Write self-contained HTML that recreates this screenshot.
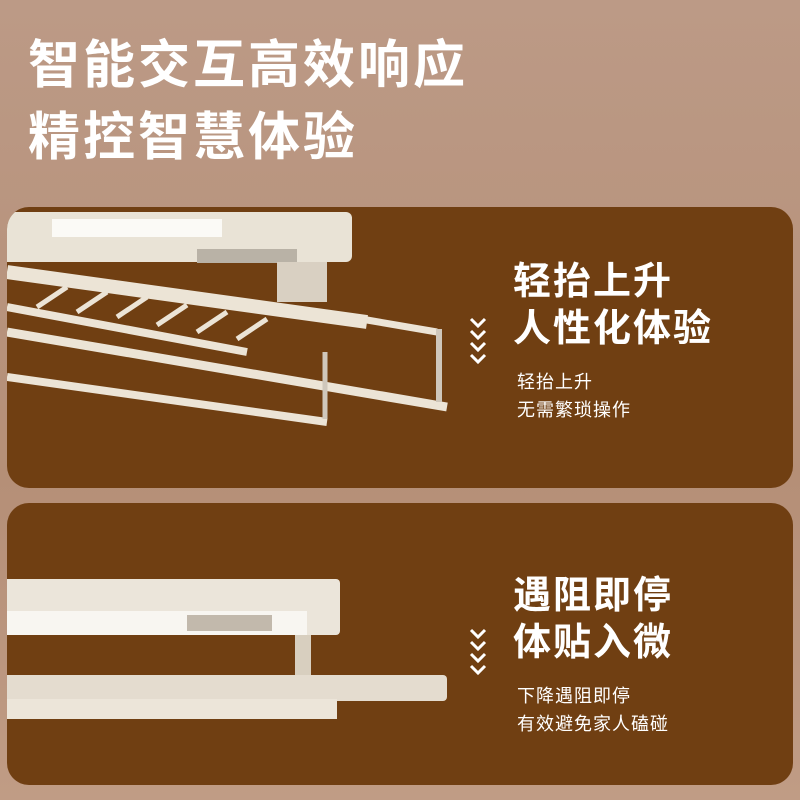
<!DOCTYPE html>
<html><head><meta charset="utf-8"><style>
*{margin:0;padding:0;box-sizing:border-box}
body{width:800px;height:800px;overflow:hidden;background:linear-gradient(180deg,#bc9a86 0%,#b58f77 60%,#c09c85 100%);font-family:"Liberation Sans","Noto Sans CJK SC",sans-serif;position:relative}
.t{position:absolute;left:28px;color:#fff;font-size:52px;font-weight:bold;letter-spacing:3px;line-height:1}
.card{position:absolute;left:7px;width:786px;background:#703f12;border-radius:22px;overflow:hidden}
.h{position:absolute;color:#fff;font-size:38px;font-weight:bold;letter-spacing:2px;line-height:1}
.s{position:absolute;color:#fff;font-size:18px;line-height:1;letter-spacing:1px}
.p{position:absolute;background:#ede5d8}
</style></head><body>
<div class="t" style="top:40px">智能交互高效响应</div>
<div class="t" style="top:112px">精控智慧体验</div>

<div class="card" style="top:207px;height:281px">
  <div class="p" style="left:0;top:5px;width:345px;height:50px;border-radius:0 6px 6px 0;background:#e9e3d6"></div>
  <div class="p" style="left:45px;top:12px;width:170px;height:18px;background:#fbfaf6"></div>
  <div class="p" style="left:190px;top:42px;width:100px;height:14px;background:#b9b2a6"></div>
  <div class="p" style="left:270px;top:55px;width:50px;height:40px;background:#d9d0c2"></div>
  <svg style="position:absolute;left:0;top:0" width="460" height="220">
    <g stroke="#ece4d6" fill="none">
      <path d="M0 65 L360 115" stroke-width="14"/>
      <path d="M0 125 L440 200" stroke-width="9"/>
      <path d="M0 170 L320 215" stroke-width="8"/>
      <path d="M360 113 L430 125" stroke-width="7"/>
      <path d="M432 122 L432 195" stroke-width="6" stroke="#cfc7bb"/>
      <path d="M318 145 L318 212" stroke-width="5" stroke="#cfc7bb"/>
      <g stroke-width="5"><path d="M30 100 L60 80"/><path d="M70 105 L100 85"/><path d="M110 110 L140 90"/><path d="M150 118 L180 98"/><path d="M190 125 L220 105"/><path d="M230 132 L260 112"/></g>
      <path d="M0 100 L240 145" stroke-width="8"/>
    </g>
  </svg>
  <svg style="position:absolute;left:460px;top:110px" width="22" height="48"><g stroke="#fff" stroke-width="3" fill="none"><path d="M4 2 L11 9 L18 2"/><path d="M4 14 L11 21 L18 14"/><path d="M4 26 L11 33 L18 26"/><path d="M4 38 L11 45 L18 38"/></g></svg>
  <div class="h" style="left:506px;top:56px">轻抬上升</div>
  <div class="h" style="left:506px;top:103px">人性化体验</div>
  <div class="s" style="left:510px;top:166px">轻抬上升</div>
  <div class="s" style="left:510px;top:194px">无需繁琐操作</div>
</div>

<div class="card" style="top:503px;height:282px">
  <div class="p" style="left:0;top:76px;width:333px;height:56px;border-radius:0 4px 4px 0;background:#ebe5da"></div>
  <div class="p" style="left:0;top:108px;width:300px;height:24px;background:#f8f6f1"></div>
  <div class="p" style="left:180px;top:112px;width:85px;height:16px;background:#c2b9ac"></div>
  <div class="p" style="left:288px;top:132px;width:16px;height:40px;background:#d8cfbf"></div>
  <div class="p" style="left:0;top:172px;width:440px;height:26px;border-radius:0 4px 4px 0;background:#e4dccf"></div>
  <div class="p" style="left:0;top:196px;width:330px;height:20px;background:#ece5d9"></div>
  <svg style="position:absolute;left:460px;top:125px" width="22" height="48"><g stroke="#fff" stroke-width="3" fill="none"><path d="M4 2 L11 9 L18 2"/><path d="M4 14 L11 21 L18 14"/><path d="M4 26 L11 33 L18 26"/><path d="M4 38 L11 45 L18 38"/></g></svg>
  <div class="h" style="left:506px;top:74px">遇阻即停</div>
  <div class="h" style="left:506px;top:121px">体贴入微</div>
  <div class="s" style="left:510px;top:184px">下降遇阻即停</div>
  <div class="s" style="left:510px;top:212px">有效避免家人磕碰</div>
</div>
</body></html>
